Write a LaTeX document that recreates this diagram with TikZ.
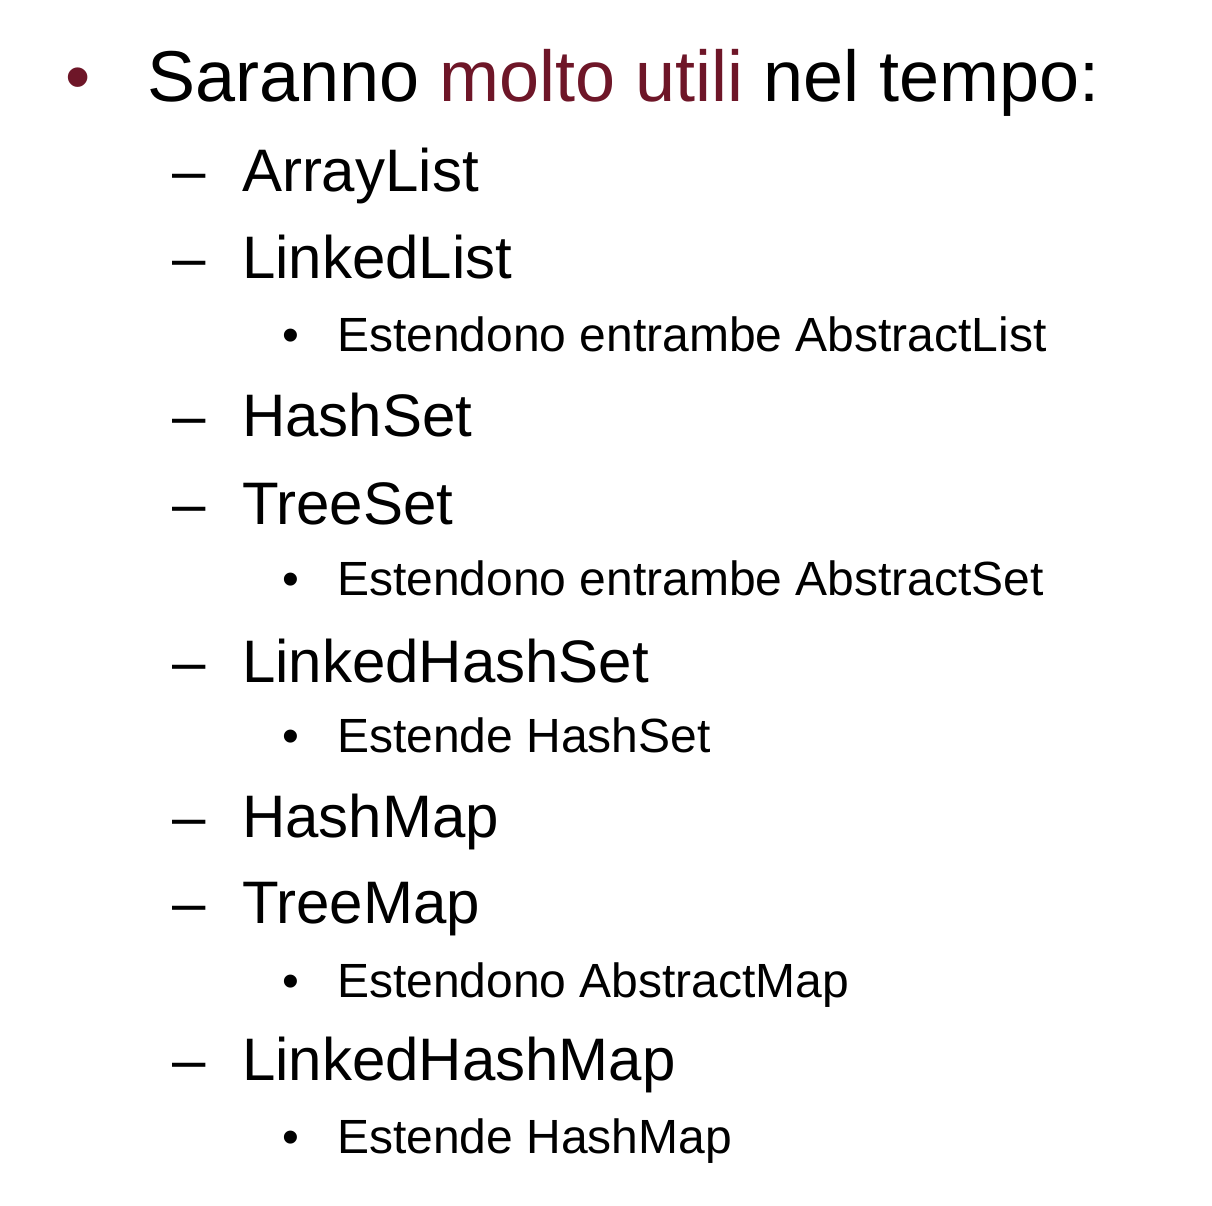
\documentclass[tikz,border=0pt]{standalone}
\usepackage{fontspec}
\setmainfont{Liberation Sans}
\definecolor{bordeaux}{RGB}{110,22,40}
\begin{document}
\begin{tikzpicture}[x=0.5pt,y=-0.5pt,
  every node/.style={anchor=base west,inner sep=0pt,outer sep=0pt},
  lvlone/.style={font=\fontsize{36}{43}\selectfont},
  lvltwo/.style={font=\fontsize{30}{36}\selectfont},
  lvlthree/.style={font=\fontsize{24}{29}\selectfont}]
\useasboundingbox (0,0) rectangle (1212,1206);
% primo livello
\node (b0) [lvlone,text=bordeaux] at (65,101) {•};
\node (titolo) [lvlone] at (147,101) {Saranno \textcolor{bordeaux}{molto utili} nel tempo:};
% secondo livello
\node (d1) [lvltwo] at (172,191) {–};
\node (arraylist) [lvltwo] at (242,191) {ArrayList};
\node (d2) [lvltwo] at (172,278) {–};
\node (linkedlist) [lvltwo] at (242,278) {LinkedList};
\node (b1) [lvlthree] at (282,351) {•};
\node (nota1) [lvlthree] at (337,351) {Estendono entrambe AbstractList};
\node (d3) [lvltwo] at (172,436) {–};
\node (hashset) [lvltwo] at (242,436) {HashSet};
\node (d4) [lvltwo] at (172,524) {–};
\node (treeset) [lvltwo] at (242,524) {TreeSet};
\node (b2) [lvlthree] at (282,595) {•};
\node (nota2) [lvlthree] at (337,595) {Estendono entrambe AbstractSet};
\node (d5) [lvltwo] at (172,682) {–};
\node (linkedhashset) [lvltwo] at (242,682) {LinkedHashSet};
\node (b3) [lvlthree] at (282,752) {•};
\node (nota3) [lvlthree] at (337,752) {Estende HashSet};
\node (d6) [lvltwo] at (172,837) {–};
\node (hashmap) [lvltwo] at (242,837) {HashMap};
\node (d7) [lvltwo] at (172,923) {–};
\node (treemap) [lvltwo] at (242,923) {TreeMap};
\node (b4) [lvlthree] at (282,997) {•};
\node (nota4) [lvlthree] at (337,997) {Estendono AbstractMap};
\node (d8) [lvltwo] at (172,1080) {–};
\node (linkedhashmap) [lvltwo] at (242,1080) {LinkedHashMap};
\node (b5) [lvlthree] at (282,1153) {•};
\node (nota5) [lvlthree] at (337,1153) {Estende HashMap};
\end{tikzpicture}
\end{document}
